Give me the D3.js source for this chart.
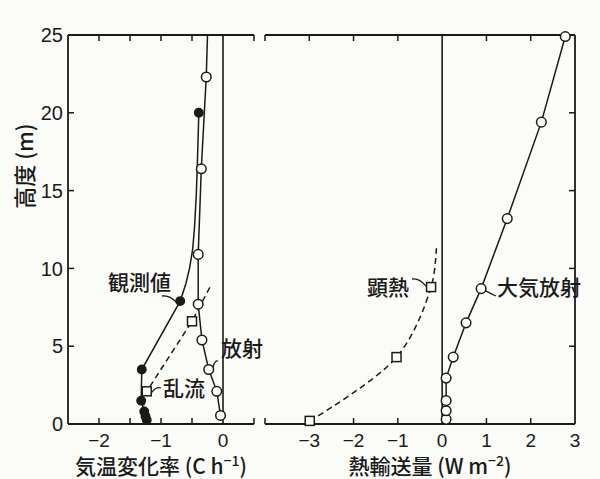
<!DOCTYPE html>
<html><head><meta charset="utf-8">
<script src="https://cdn.jsdelivr.net/npm/d3@7/dist/d3.min.js"></script>
<style>
body{margin:0;background:#fbfbf8;}
svg{display:block;}
</style></head>
<body>
<svg id="c" width="600" height="479"></svg>
<script>
// ---- data ----
// Left panel: air temperature change rate (C h^-1) vs height (m)
const obsX  = [-1.23, -1.25, -1.27, -1.32, -1.31, -0.69, -0.39];   // 観測値 markers
const obsZ  = [0.25, 0.5, 0.8, 1.5, 3.5, 7.9, 20];
const obsLineX = [-1.23, -1.25, -1.27, -1.32, -1.31, -0.69, -0.60, -0.54, -0.49, -0.46, -0.43, -0.41, -0.39];
const obsLineZ = [0.25, 0.5, 0.8, 1.5, 3.5, 7.9, 9.0, 10.0, 11.2, 12.6, 14.8, 17.2, 20];
const radX  = [-0.04, -0.10, -0.23, -0.34, -0.40, -0.40, -0.35, -0.27]; // 放射 markers
const radZ  = [0.55, 2.1, 3.5, 5.4, 7.7, 10.9, 16.4, 22.3];
const radLineX = [-0.04, -0.10, -0.23, -0.34, -0.40, -0.40, -0.35, -0.27, -0.25];
const radLineZ = [0.55, 2.1, 3.5, 5.4, 7.7, 10.9, 16.4, 22.3, 25];
const turbX = [-1.23, -0.50];                                          // 乱流 markers
const turbZ = [2.1, 6.6];
const turbLineX = [-1.28, -1.23, -0.50, -0.21];
const turbLineZ = [1.2, 2.1, 6.6, 8.8];
// Right panel: heat transport (W m^-2) vs height (m)
const shX = [-2.99, -1.03, -0.25];                                    // 顕熱 markers
const shZ = [0.2, 4.3, 8.8];
const shLineX = [-2.99, -1.03, -0.25, -0.13];
const shLineZ = [0.2, 4.3, 8.8, 11.3];
const arX = [0.09, 0.09, 0.09, 0.09, 0.25, 0.54, 0.88, 1.47, 2.24, 2.78]; // 大気放射
const arZ = [0.3, 0.85, 1.5, 2.95, 4.3, 6.5, 8.7, 13.2, 19.4, 24.9];
// ticks
const yTickLabels = [0, 5, 10, 15, 20, 25];
const yTickMarks = [5, 10, 15, 20];
const leftXLabels = [-2, -1, 0];
const leftXMarks = [-2, -1.5, -1, -0.5, 0.5];
const rightXLabels = [-3, -2, -1, 0, 1, 2, 3];
const rightXMarks = [-4, -3, -2, -1, 1, 2];

// ---- layout ----
const svg = d3.select("#c");
const y = d3.scaleLinear([0, 25], [424, 35]);
const xL = d3.scaleLinear([-2.5, 0.5], [68, 254]);
const xR = d3.scaleLinear([-4, 3], [265, 575]);
const ink = "#1a1a1a";
const numFont = "'Liberation Sans', Arial, sans-serif";
const jpFont = "'Noto Sans CJK JP', 'Noto Sans CJK SC', sans-serif";
const fmt = d => d < 0 ? "\u2212" + Math.abs(d) : String(d);
const zip = (a, b) => a.map((v, i) => [v, b[i]]);

const g = svg.append("g").attr("stroke", ink).attr("fill", "none");

// frame lines: left panel
g.append("line").attr("x1", xL(-2.5)).attr("x2", xL(-2.5)).attr("y1", y(0)).attr("y2", y(25)).attr("stroke-width", 1.8);
[0, 25].forEach(v => g.append("line").attr("x1", xL(-2.5)).attr("x2", xL(0.5)).attr("y1", y(v)).attr("y2", y(v)).attr("stroke-width", 1.8));
g.append("line").attr("x1", xL(0)).attr("x2", xL(0)).attr("y1", y(0)).attr("y2", y(25)).attr("stroke-width", 1.6);
// right panel
[0, 25].forEach(v => g.append("line").attr("x1", xR(-4)).attr("x2", xR(3)).attr("y1", y(v)).attr("y2", y(v)).attr("stroke-width", 1.8));
g.append("line").attr("x1", xR(3)).attr("x2", xR(3)).attr("y1", y(0)).attr("y2", y(25)).attr("stroke-width", 1.8);
g.append("line").attr("x1", xR(0)).attr("x2", xR(0)).attr("y1", y(0)).attr("y2", y(25)).attr("stroke-width", 1.6);

// tick marks (inward)
const tl = 6;
leftXMarks.forEach(v => {
  g.append("line").attr("x1", xL(v)).attr("x2", xL(v)).attr("y1", y(25)).attr("y2", y(25) + tl).attr("stroke-width", 1.5);
  g.append("line").attr("x1", xL(v)).attr("x2", xL(v)).attr("y1", y(0)).attr("y2", y(0) - tl).attr("stroke-width", 1.5);
});
rightXMarks.forEach(v => {
  g.append("line").attr("x1", xR(v)).attr("x2", xR(v)).attr("y1", y(25)).attr("y2", y(25) + tl).attr("stroke-width", 1.5);
  g.append("line").attr("x1", xR(v)).attr("x2", xR(v)).attr("y1", y(0)).attr("y2", y(0) - tl).attr("stroke-width", 1.5);
});
yTickMarks.forEach(v => {
  g.append("line").attr("x1", xL(-2.5)).attr("x2", xL(-2.5) + tl).attr("y1", y(v)).attr("y2", y(v)).attr("stroke-width", 1.5);
  g.append("line").attr("x1", xR(3)).attr("x2", xR(3) - tl).attr("y1", y(v)).attr("y2", y(v)).attr("stroke-width", 1.5);
});

// tick labels
const t = svg.append("g").attr("fill", ink).attr("font-family", numFont).attr("font-size", 19);
yTickLabels.forEach(v => t.append("text").attr("x", xL(-2.5) - 5).attr("y", y(v)).attr("dy", "0.36em").attr("text-anchor", "end").attr("font-size", 20).text(v));
leftXLabels.forEach(v => t.append("text").attr("x", xL(v)).attr("y", y(0) + 23).attr("text-anchor", "middle").text(fmt(v)));
rightXLabels.forEach(v => t.append("text").attr("x", xR(v)).attr("y", y(0) + 23).attr("text-anchor", "middle").text(fmt(v)));

// axis titles
const jt = svg.append("g").attr("fill", ink).attr("font-family", jpFont).attr("font-weight", 500);
jt.append("text").attr("transform", "translate(33,166) rotate(-90)").attr("text-anchor", "middle").attr("font-size", 22).text("高度 (m)");
const xt1 = jt.append("text").attr("x", 161).attr("y", 474).attr("text-anchor", "middle").attr("font-size", 21);
xt1.append("tspan").text("気温変化率 (C h");
xt1.append("tspan").attr("dy", -8).attr("font-size", 14).text("−1");
xt1.append("tspan").attr("dy", 8).text(")");
const xt2 = jt.append("text").attr("x", 430).attr("y", 474).attr("text-anchor", "middle").attr("font-size", 21);
xt2.append("tspan").text("熱輸送量 (W m");
xt2.append("tspan").attr("dy", -8).attr("font-size", 14).text("−2");
xt2.append("tspan").attr("dy", 8).text(")");

// ---- series ----
const lineL = d3.line().x(d => xL(d[0])).y(d => y(d[1]));
const lineR = d3.line().x(d => xR(d[0])).y(d => y(d[1]));
const lineRs = d3.line().x(d => xR(d[0])).y(d => y(d[1])).curve(d3.curveCatmullRom);

const s = svg.append("g").attr("stroke", ink).attr("fill", "none").attr("stroke-width", 1.5);
s.append("path").attr("d", lineL(zip(obsLineX, obsLineZ)));
s.append("path").attr("d", lineL(zip(radLineX, radLineZ)));
s.append("path").attr("d", lineL(zip(turbLineX, turbLineZ))).attr("stroke-dasharray", "6,4");
s.append("path").attr("d", lineRs(zip(shLineX, shLineZ))).attr("stroke-dasharray", "6,4");
s.append("path").attr("d", lineR(zip(arX, arZ)));

// markers
s.selectAll(".obs").data(zip(obsX, obsZ)).join("circle").attr("cx", d => xL(d[0])).attr("cy", d => y(d[1])).attr("r", 4.2).attr("fill", ink);
s.selectAll(".rad").data(zip(radX, radZ)).join("circle").attr("class", "rad").attr("cx", d => xL(d[0])).attr("cy", d => y(d[1])).attr("r", 4.8).attr("fill", "#fff");
const sq = 9;
s.selectAll(".tb").data(zip(turbX, turbZ)).join("rect").attr("class", "tb").attr("x", d => xL(d[0]) - sq / 2).attr("y", d => y(d[1]) - sq / 2).attr("width", sq).attr("height", sq).attr("fill", "#fff");
s.selectAll(".sh").data(zip(shX, shZ)).join("rect").attr("class", "sh").attr("x", d => xR(d[0]) - sq / 2).attr("y", d => y(d[1]) - sq / 2).attr("width", sq).attr("height", sq).attr("fill", "#fff");
s.selectAll(".ar").data(zip(arX, arZ)).join("circle").attr("class", "ar").attr("cx", d => xR(d[0])).attr("cy", d => y(d[1])).attr("r", 4.8).attr("fill", "#fff");

// ---- annotations ----
const an = svg.append("g").attr("fill", ink).attr("font-family", jpFont).attr("font-weight", 500).attr("font-size", 21);
an.append("text").attr("x", 108).attr("y", 290).text("観測値");
an.append("text").attr("x", 221).attr("y", 356).text("放射");
an.append("text").attr("x", 163).attr("y", 396).text("乱流");
an.append("text").attr("x", 367).attr("y", 295).text("顕熱");
an.append("text").attr("x", 497).attr("y", 295).text("大気放射");
const ld = svg.append("g").attr("stroke", ink).attr("fill", "none").attr("stroke-width", 1.3);
const lead = (x0, y0, x1, y1) => ld.append("path").attr("d", `M${x0},${y0} Q${(x0 + x1) / 2},${y0 + (y1 - y0) * 0.1 - 2} ${x1},${y1}`);
lead(162, 296, xL(obsX[5]) - 4, y(obsZ[5]) + 1);
lead(218, 361, xL(radX[2]) + 4, y(radZ[2]) - 2);
lead(161, 388, xL(turbX[0]) + 5, y(turbZ[0]) + 1);
lead(412, 279, xR(shX[2]) - 5, y(shZ[2]) - 1);
lead(496, 296, xR(arX[6]) + 4, y(arZ[6]) + 2);
</script>
</body></html>
